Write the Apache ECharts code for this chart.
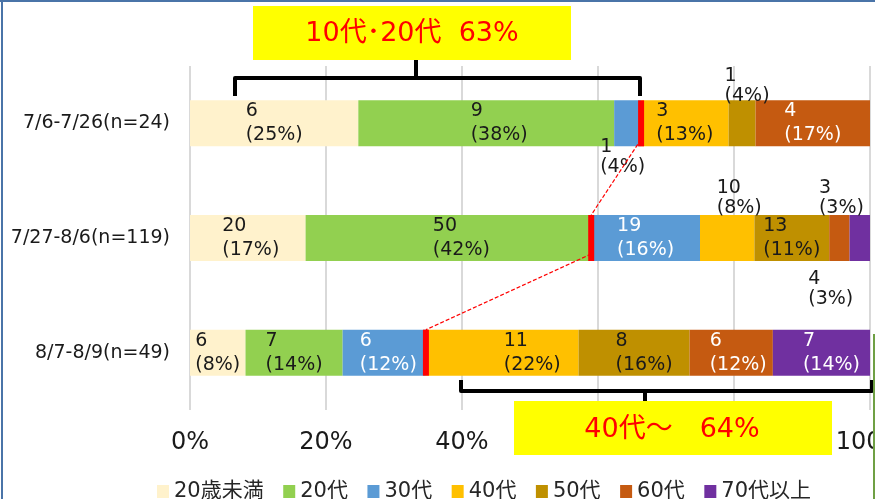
<!DOCTYPE html>
<html lang="ja">
<head>
<meta charset="UTF-8">
<script src="https://cdn.jsdelivr.net/npm/echarts@6/dist/echarts.min.js"></script>
<style>
  html, body { margin: 0; padding: 0; background: #fff; }
  #main { width: 875px; height: 499px; }
</style>
</head>
<body>
<div id="main"></div>
<script>
// データ
var periods = ['7/6-7/26(n=24)', '7/27-8/6(n=119)', '8/7-8/9(n=49)'];
var ageGroups = ['20歳未満', '20代', '30代', '40代', '50代', '60代', '70代以上'];
var counts = [
    [6, 9, 1, 3, 1, 4, 0],
    [20, 50, 19, 10, 13, 3, 4],
    [6, 7, 6, 11, 8, 6, 7]
];
var percents = [
    [25, 38, 4, 13, 4, 17, 0],
    [17, 42, 16, 8, 11, 3, 3],
    [8, 14, 12, 22, 16, 12, 14]
];
var xTicks = [0, 20, 40, 60, 80, 100];
var noteTop = '10代･20代  63%';
var noteBottom = '40代～　64%';

// 見た目
var FONT = '"DejaVu Sans", "Noto Sans CJK JP", sans-serif';
var colors = ['#FFF2CC', '#92D050', '#5B9BD5', '#FFC000', '#BF9000', '#C55A11', '#7030A0'];
var labelColors = ['#1a1a1a', '#1a1a1a', '#ffffff', '#1a1a1a', '#1a1a1a', '#ffffff', '#ffffff'];
// 棒の外に出すラベル: 行-系列 -> [位置, dx, dy]
var outside = {
    '0-2': ['bottom', -5, -14],
    '0-4': ['top', 5, 11],
    '1-3': ['top', 12, 8],
    '1-5': ['top', 2, 8],
    '1-6': ['bottom', -29, 3]
};
// 棒の中のラベルの横ずれ
var nudge = { '0-1': 13, '1-0': 3, '1-1': 13, '2-2': 4, '2-3': 30, '2-4': 10, '2-5': 7, '2-6': 10 };
// 赤いマーカー: [行, その前の区分数]
var markers = [[0, 3], [1, 2], [2, 3]];

var LABEL_SIZE = 19;
var ctx = document.createElement('canvas').getContext('2d');
ctx.font = LABEL_SIZE + 'px "DejaVu Sans"';
function textWidth(s) { return ctx.measureText(s).width; }

function plotValue(i, j) {
    var sum = percents[i].reduce(function (a, b) { return a + b; }, 0);
    return percents[i][j] / sum * 100;
}

var series = ageGroups.map(function (name, j) {
    return {
        name: name,
        type: 'bar',
        stack: 'all',
        barWidth: 46,
        itemStyle: { color: colors[j] },
        label: {
            show: true,
            position: 'inside',
            align: 'left',
            fontSize: LABEL_SIZE,
            lineHeight: 24,
            fontFamily: FONT,
            color: labelColors[j],
            formatter: function (p) {
                return counts[p.dataIndex][j] + '\n(' + percents[p.dataIndex][j] + '%)';
            }
        },
        data: periods.map(function (p, i) {
            var key = i + '-' + j;
            var w = textWidth('(' + percents[i][j] + '%)');
            var lab = { offset: [-w / 2 + (nudge[key] || 0), 0] };
            if (counts[i][j] === 0) lab = { show: false };
            var o = outside[key];
            if (o) {
                lab.position = o[0];
                lab.offset = [-w / 2 + o[1], o[2]];
                lab.lineHeight = 20;
                lab.color = '#1a1a1a';
            }
            return { value: plotValue(i, j), label: lab };
        })
    };
});

var chart = echarts.init(document.getElementById('main'));
chart.setOption({
    animation: false,
    backgroundColor: '#fff',
    grid: { left: 190, right: 5, top: 66, bottom: 89, containLabel: false, outerBoundsMode: 'none' },
    xAxis: {
        type: 'value',
        min: xTicks[0],
        max: xTicks[xTicks.length - 1],
        interval: xTicks[1] - xTicks[0],
        axisLine: { show: false },
        axisTick: { show: false },
        splitLine: { lineStyle: { color: '#D9D9D9', width: 2 } },
        axisLabel: {
            margin: 21,
            fontSize: 24,
            fontFamily: FONT,
            color: '#1a1a1a',
            formatter: '{value}%'
        }
    },
    yAxis: {
        type: 'category',
        data: periods,
        inverse: true,
        axisLine: { show: false },
        axisTick: { show: false },
        axisLabel: { margin: 20, fontSize: 19, fontFamily: FONT, color: '#1a1a1a' }
    },
    legend: {
        data: ageGroups,
        left: 152,
        top: 476,
        icon: 'rect',
        itemWidth: 12,
        itemHeight: 13,
        itemGap: 19.5,
        textStyle: { fontSize: 21, fontFamily: FONT, color: '#262626' }
    },
    series: series
});

// 注釈（マーカー・点線・括弧・黄色ボックス）
var g = [];
var pts = markers.map(function (m) {
    var cum = 0;
    for (var k = 0; k < m[1]; k++) cum += plotValue(m[0], k);
    return chart.convertToPixel({ gridIndex: 0 }, [cum, periods[m[0]]]);
});
pts.forEach(function (p, k) {
    g.push({
        type: 'rect', z: 100,
        shape: { x: p[0] - 3, y: p[1] - 23, width: 6, height: 46 },
        style: { fill: '#FF0000' }
    });
    if (k < pts.length - 1) {
        var q = pts[k + 1];
        g.push({
            type: 'line', z: 101,
            shape: { x1: p[0], y1: p[1] + 16, x2: q[0], y2: q[1] - 23 },
            style: { stroke: '#FF0000', lineWidth: 1.2, lineDash: [4, 2] }
        });
    }
});

var bracketStyle = { stroke: '#000', fill: null, lineWidth: 4, lineJoin: 'round' };
// 上の括弧
g.push({ type: 'polyline', z: 100, shape: { points: [[235, 96], [235, 78], [640, 78], [640, 96]] }, style: bracketStyle });
g.push({ type: 'line', z: 100, shape: { x1: 416, y1: 78, x2: 416, y2: 60 }, style: bracketStyle });
// 下の括弧
g.push({ type: 'polyline', z: 100, shape: { points: [[461, 380], [461, 391], [872, 391], [872, 380]] }, style: bracketStyle });
g.push({ type: 'line', z: 100, shape: { x1: 645, y1: 391, x2: 645, y2: 401 }, style: bracketStyle });

g.push({
    type: 'rect', z: 102,
    shape: { x: 253, y: 6, width: 318, height: 54 },
    style: { fill: '#FFFF00' }
});
g.push({
    type: 'text', z: 103, x: 412, y: 34,
    style: { text: noteTop, fill: '#FF0000', font: '27px ' + FONT, align: 'center', verticalAlign: 'middle' }
});
g.push({
    type: 'rect', z: 102,
    shape: { x: 514, y: 401, width: 318, height: 54 },
    style: { fill: '#FFFF00' }
});
g.push({
    type: 'text', z: 103, x: 672, y: 430,
    style: { text: noteBottom, fill: '#FF0000', font: '27px ' + FONT, align: 'center', verticalAlign: 'middle' }
});
// 枠線
g.push({ type: 'rect', z: 110, shape: { x: 0, y: 0, width: 875, height: 2 }, style: { fill: '#4A74A8' } });
g.push({ type: 'rect', z: 110, shape: { x: 1, y: 0, width: 2, height: 499 }, style: { fill: '#4A74A8' } });
g.push({ type: 'rect', z: 110, shape: { x: 873, y: 334, width: 2, height: 165 }, style: { fill: '#6FA044' } });

chart.setOption({ graphic: g });
</script>
</body>
</html>
